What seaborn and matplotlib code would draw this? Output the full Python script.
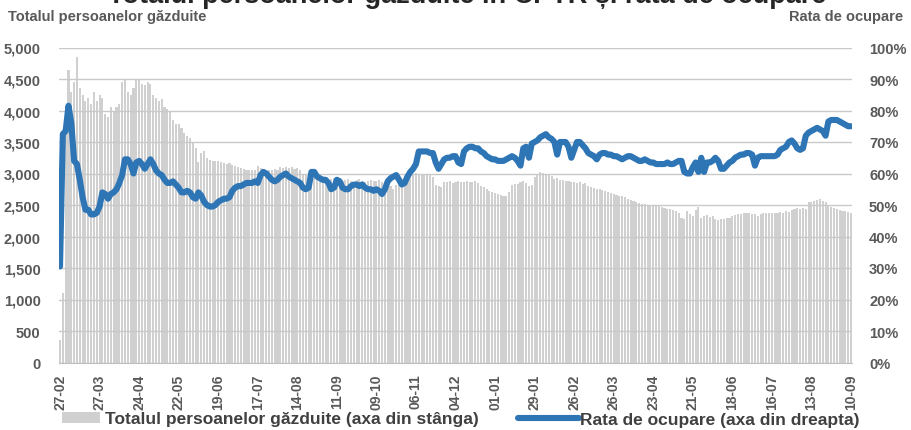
import numpy as np
import matplotlib
matplotlib.use("Agg")
import matplotlib.pyplot as plt
from matplotlib.patches import Patch
from matplotlib.lines import Line2D
from matplotlib.ticker import FuncFormatter
import seaborn as sns

# Data (one value every 2 days, 14 values per 28-day tick interval)
guests = [
    350, 1100, 3800, 4650, 4300, 4450, 4850, 4350, 4250, 4150, 4200, 4100, 4300, 4150,
    4250, 4200, 3950, 3900, 4050, 4000, 4050, 4100, 4450, 4500, 4300, 4250, 4350, 4500,
    4500, 4420, 4400, 4450, 4420, 4250, 4200, 4150, 4180, 4050, 4030, 4000, 3850, 3780,
    3780, 3720, 3650, 3600, 3560, 3500, 3400, 3180, 3320, 3350, 3250, 3220, 3200, 3200,
    3200, 3180, 3170, 3150, 3160, 3140, 3120, 3100, 3080, 3070, 3060, 3050, 3050, 3060,
    3120, 3080, 3050, 3040, 3060, 3050, 3070, 3060, 3100, 3080, 3110, 3090, 3100, 3070,
    3080, 3050, 3000, 2980, 2970, 2950, 2930, 2920, 2900, 2920, 2930, 2910, 2920, 2930,
    2920, 2900, 2880, 2900, 2920, 2880, 2870, 2900, 2920, 2880, 2860, 2880, 2900, 2880,
    2880, 2900, 2870, 2850, 2780, 2800, 2750, 2820, 2850, 2880, 2900, 2950, 3000, 2980,
    3010, 3000, 2990, 2980, 3000, 2970, 2950, 2820, 2800, 2780, 2860, 2870, 2880, 2850,
    2870, 2880, 2860, 2870, 2880, 2860, 2870, 2880, 2850, 2800, 2780, 2760, 2720, 2700,
    2690, 2680, 2660, 2640, 2650, 2700, 2820, 2840, 2830, 2870, 2880, 2850, 2800, 2820,
    2950, 3000, 3020, 3010, 3000, 2990, 2960, 2920, 2930, 2900, 2890, 2880, 2880, 2870,
    2870, 2850, 2860, 2840, 2850, 2800, 2780, 2770, 2760, 2750, 2740, 2720, 2700, 2690,
    2680, 2660, 2650, 2640, 2620, 2600, 2580, 2560, 2540, 2530, 2520, 2510, 2500, 2500,
    2500, 2490, 2480, 2470, 2450, 2440, 2430, 2420, 2400, 2380, 2300, 2280, 2400, 2350,
    2320, 2420, 2470, 2300, 2330, 2340, 2310, 2330, 2280, 2260, 2270, 2280, 2290, 2300,
    2320, 2340, 2350, 2360, 2370, 2380, 2370, 2350, 2360, 2330, 2350, 2370, 2380, 2370,
    2370, 2380, 2380, 2390, 2380, 2400, 2390, 2420, 2440, 2450, 2430, 2460, 2440, 2550,
    2550, 2560, 2580, 2590, 2570, 2540, 2500, 2470, 2460, 2440, 2420, 2410, 2400, 2390,
    2380,
]

rate = [
    30.5, 72.5, 73.5, 81.5, 76, 64, 63, 58, 52.5, 48.5, 48.5, 47, 47, 47.5,
    49.5, 54, 53.5, 52, 53.5, 54, 55, 57, 59.5, 64.5, 64.5, 63, 60, 63.5,
    64, 63, 61.5, 63, 64.5, 63, 61, 60, 59.5, 58, 57, 57, 57.5, 56.5,
    55.5, 54, 54, 54.5, 54, 52.5, 52, 54, 53, 51, 50, 49.5, 49.5, 50,
    51, 51.5, 52, 52, 52.5, 54.5, 55.5, 56, 56, 56.5, 57, 57, 57, 57.5,
    57, 59.5, 60.5, 60, 59, 58, 57.5, 58, 59, 59.5, 60, 59, 58.5, 58,
    57.5, 57, 55.5, 55, 55.5, 60.5, 60.5, 59, 58.5, 58, 58, 57, 55, 55.5,
    58, 57.5, 55.5, 55, 55, 56, 56.5, 56.5, 56, 56.5, 55.5, 55, 55, 54.5,
    55, 54.5, 53.5, 55, 57.5, 58.5, 59, 59.5, 58, 56.5, 57, 59, 60.5, 61.5,
    63, 67, 67, 67, 67, 66.5, 66.5, 63.5, 61.5, 63, 64.5, 65, 65, 65.5,
    65.5, 63.5, 63, 67, 68, 68.5, 68.5, 68, 68, 67, 66.5, 65.5, 65, 64.5,
    64.5, 64, 64, 64, 64.5, 65, 65.5, 65, 64, 62.5, 68, 68.5, 65, 69.5,
    70, 70.5, 71.5, 72, 72.5, 71.5, 71, 70, 66, 70, 70, 70, 68.5, 65,
    67.5, 70, 70, 69, 68, 66.5, 66, 65.5, 64.5, 66, 66.5, 66.5, 66, 66,
    65.5, 65.5, 65, 64.5, 65, 65.5, 65.5, 65, 64.5, 64, 64, 64.5, 64, 63.5,
    63.5, 63, 63, 63, 63, 63.5, 63, 63, 63.5, 64, 64, 60.5, 60, 60,
    62, 63.5, 60.5, 65, 60.5, 63.5, 63.5, 64, 65, 64, 61.5, 61.5, 62.5, 63.5,
    64, 65, 65.5, 66, 66, 66.5, 66.5, 66, 62.5, 65, 65.5, 65.5, 65.5, 65.5,
    65.5, 65.5, 66, 67.5, 68, 68.5, 70, 70.5, 69.5, 68, 67.5, 68, 72, 73,
    73.5, 74, 74.5, 74, 73.5, 72, 76.5, 77, 77, 77, 76.5, 76, 75.5, 75,
    75,
]

tick_labels = ["27-02", "27-03", "24-04", "22-05", "19-06", "17-07", "14-08",
               "11-09", "09-10", "06-11", "04-12", "01-01", "29-01", "26-02",
               "26-03", "23-04", "21-05", "18-06", "16-07", "13-08", "10-09"]

BAR = "#d0d0d0"
BLUE = "#2e75b6"
TXT = "#595959"

sns.set_style("white")
plt.rcParams["font.family"] = ["Liberation Sans Narrow", "Liberation Sans", "DejaVu Sans"]

pos = np.arange(len(guests))
rate_frac = np.array(rate) / 100.0

fig = plt.figure(figsize=(9.11, 4.31), dpi=100)
ax = fig.add_axes([58.6 / 911, 67.5 / 431, 793.8 / 911, 315 / 431])

sns.barplot(x=pos, y=guests, ax=ax, color=BAR, saturation=1, width=0.74,
            linewidth=0, errorbar=None)
ax.set_xlim(-0.5, len(guests) - 0.5)
ax.set_ylim(0, 5000)
ax.set_yticks(np.arange(0, 5001, 500))
ax.yaxis.set_major_formatter(FuncFormatter(lambda v, p: f"{int(v):,}"))
ax.set_axisbelow(False)
ax.yaxis.grid(True, color="#c9c9c9", lw=1)
ax.set_xticks(np.arange(0, len(guests), 14))
ax.set_xticklabels(tick_labels, rotation=90)
ax.set_xlabel("")
ax.set_ylabel("")
for s in ["left", "right", "top"]:
    ax.spines[s].set_visible(False)
ax.spines["bottom"].set_color("#bfbfbf")
ax.tick_params(axis="x", length=4, color="#bfbfbf", pad=4, labelsize=10, labelcolor=TXT)
ax.tick_params(axis="y", length=0, pad=13, labelsize=10.5, labelcolor=TXT)
for lab in ax.get_xticklabels() + ax.get_yticklabels():
    lab.set_fontweight("bold")

ax2 = ax.twinx()
sns.lineplot(x=pos, y=rate_frac, ax=ax2, color=BLUE, lw=4.4, solid_capstyle="round",
             solid_joinstyle="round")
ax2.set_ylim(0, 1)
ax2.set_yticks(np.arange(0, 1.01, 0.1))
ax2.yaxis.set_major_formatter(FuncFormatter(lambda v, p: f"{v:.0%}"))
ax2.tick_params(axis="y", length=0, pad=12, labelsize=10.5, labelcolor=TXT)
for lab in ax2.get_yticklabels():
    lab.set_fontweight("bold")
for s in ax2.spines.values():
    s.set_visible(False)
ax2.set_ylabel("")

# Titles (the main title is cut by the top edge in the original)
fig.text(467 / 911, 1 - 3 / 431, "Totalul persoanelor găzduite în CPTR și rata de ocupare",
         ha="center", va="baseline", fontsize=19.5, fontweight="bold", color="#262626",
         family=["Liberation Sans", "DejaVu Sans"])
fig.text(8 / 911, 1 - 17 / 431, "Totalul persoanelor găzduite", ha="left", va="center",
         fontsize=10.5, fontweight="bold", color=TXT)
fig.text(903 / 911, 1 - 17 / 431, "Rata de ocupare", ha="right", va="center",
         fontsize=10.5, fontweight="bold", color=TXT)

# Legends
leg_font = {"family": ["Liberation Sans", "DejaVu Sans"], "weight": "bold", "size": 12.5}
leg1 = fig.legend(handles=[Patch(facecolor=BAR, edgecolor="none")],
                  labels=["Totalul persoanelor găzduite (axa din stânga)"],
                  loc="center left", bbox_to_anchor=(62 / 911, 1 - 420 / 431),
                  frameon=False, borderpad=0, borderaxespad=0, handlelength=2.2,
                  handleheight=0.6, handletextpad=0.3, prop=leg_font)
for t in leg1.get_texts():
    t.set_color("#404040")
leg2 = fig.legend(handles=[Line2D([0], [0], color=BLUE, lw=4.4, solid_capstyle="round")],
                  labels=["Rata de ocupare (axa din dreapta)"],
                  loc="center left", bbox_to_anchor=(518 / 911, 1 - 420 / 431),
                  frameon=False, borderpad=0, borderaxespad=0, handlelength=3.5,
                  handletextpad=0.1, prop=leg_font)
for t in leg2.get_texts():
    t.set_color("#404040")

fig.savefig("out.png", dpi=100)
